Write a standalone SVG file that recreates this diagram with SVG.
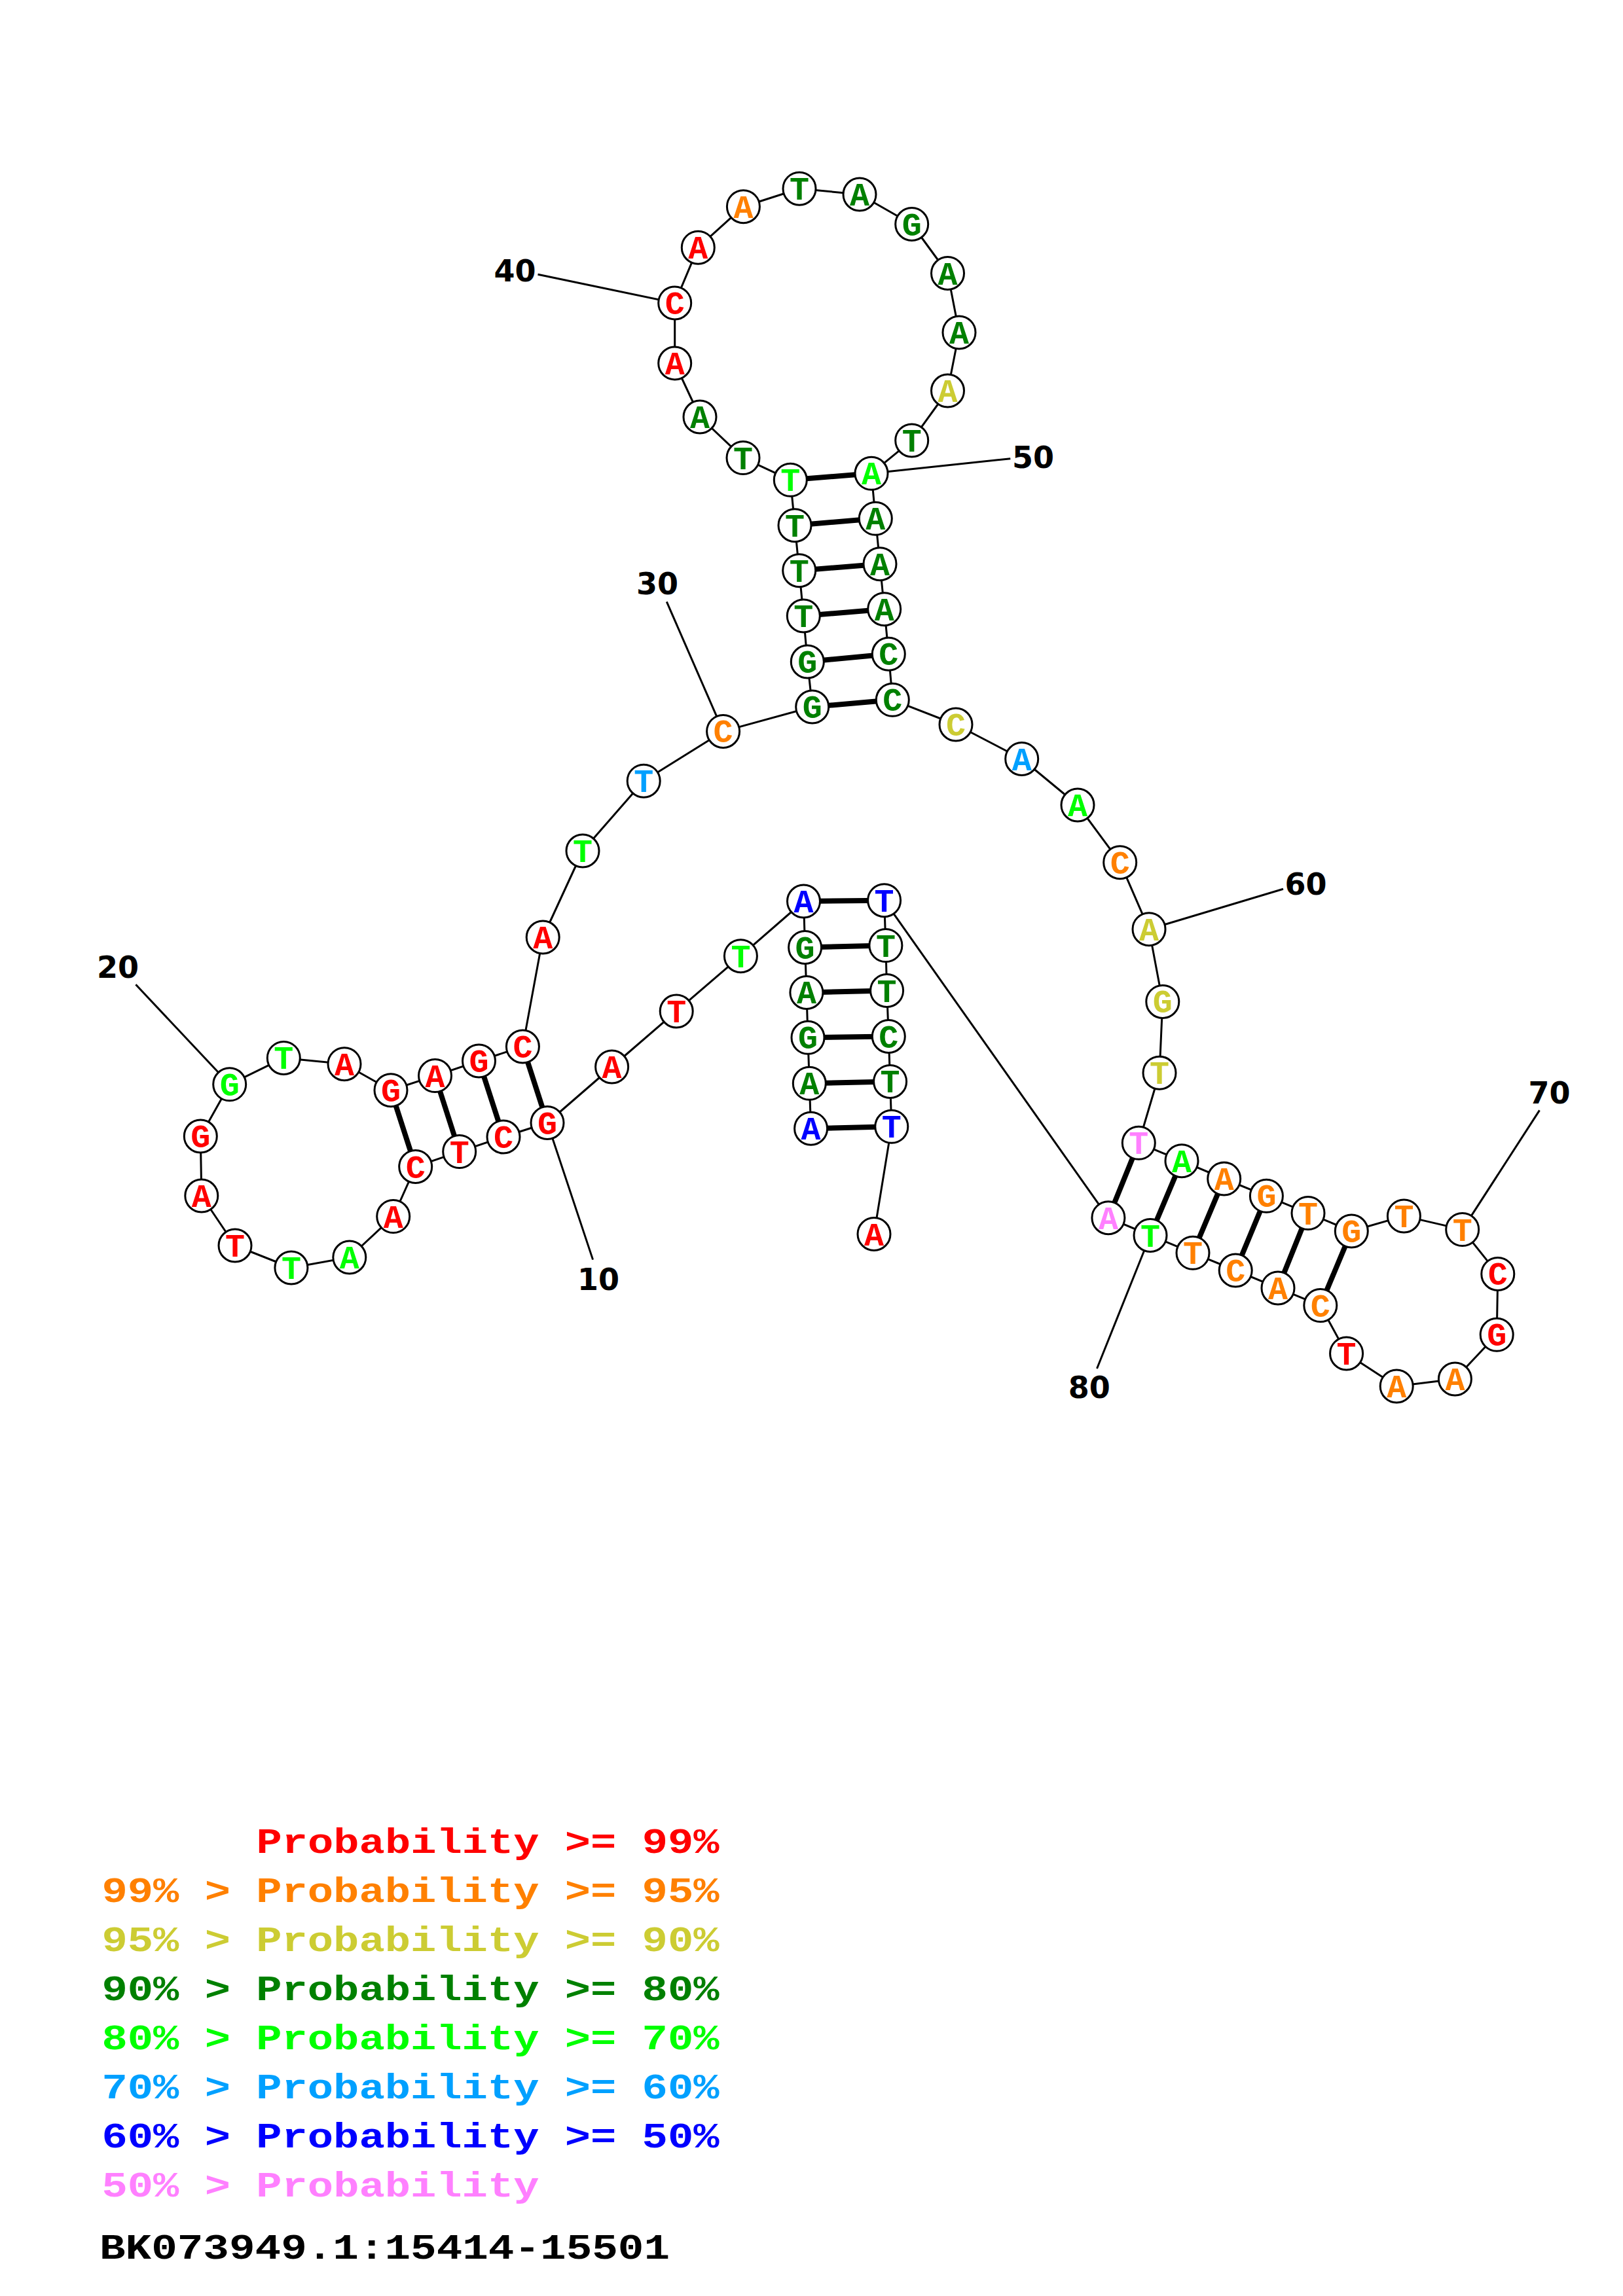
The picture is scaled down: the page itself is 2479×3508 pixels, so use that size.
<svg xmlns="http://www.w3.org/2000/svg" width="2479" height="3508" viewBox="0 0 2479 3508">
<style>
.bb{fill:none;stroke:#000;stroke-width:3;stroke-linejoin:round}
.pr{stroke:#000;stroke-width:8}
.ll{stroke:#000;stroke-width:3}
circle{fill:#fff;stroke:#000;stroke-width:3}
.nd text{font-family:"Liberation Mono","DejaVu Sans Mono",monospace;font-weight:bold;font-size:50px;text-anchor:middle}
.lab{font-family:"DejaVu Sans","Liberation Sans",sans-serif;font-weight:bold;font-size:46px;text-anchor:middle;fill:#000}
.leg{font-family:"Liberation Mono","DejaVu Sans Mono",monospace;font-weight:bold;font-size:54px}
.r{fill:#ff0000}.o{fill:#ff8000}.y{fill:#cccc33}.g{fill:#008000}.l{fill:#00ff00}.s{fill:#00a0ff}.b{fill:#0000ff}.p{fill:#ff80ff}.k{fill:#000}
</style>
<rect x="0" y="0" width="2479" height="3508" fill="#fff"/>
<g id="connectors">
<polyline class="bb" points="1238.6,1724.2 1236.3,1655.3 1234,1585.3 1231.9,1516.4 1229.6,1447.5 1227.5,1377 1131.4,1460.7 1033.2,1545 934.6,1630 836,1715.5 769,1737 701.7,1759.6 634.7,1782.5 600.7,1858.6 533.8,1921 444.9,1937 359,1903 307.8,1827 306.3,1736 350.7,1656.8 433.3,1616.4 526,1625.7 597,1665.7 664.5,1643.6 731.5,1621 798.4,1599 829.2,1432 890,1300 983.2,1193.2 1104.6,1117.4 1240.7,1080 1233.3,1011 1227.3,941 1220.7,871.7 1214,802.7 1207.3,733.3 1135,699.6 1069,637 1030.7,555 1030.7,462.9 1066.3,378.2 1135.4,315.7 1221,288.2 1313,297 1392.7,342.5 1447.5,417.5 1465,507.9 1447.5,597 1392.7,672.9 1331,723.3 1337.3,792.3 1344,861.7 1350.7,930.7 1357.3,999.3 1363.3,1069.3 1460,1107 1560.7,1159.5 1646,1230 1710.7,1317.7 1755,1419.7 1775.8,1530.4 1771,1639.2 1739.3,1746.3 1805,1773.7 1869.7,1801 1934.4,1827.3 1998,1853.6 2064.3,1881 2144.4,1857.9 2233.7,1878.6 2287.8,1946.4 2286.2,2039.3 2222.4,2107 2133.2,2117.9 2056.6,2067.9 2016.8,1994.6 1952,1967.9 1887.2,1941 1822,1914.3 1757,1887.5 1692.9,1860.7 1350.6,1375.7 1352.9,1444.6 1354.6,1513.5 1357.3,1583.5 1359.6,1652.4 1361.8,1721.3 1335,1885.5"/>
<line class="pr" x1="1238.6" y1="1724.2" x2="1361.8" y2="1721.3"/>
<line class="pr" x1="1236.3" y1="1655.3" x2="1359.6" y2="1652.4"/>
<line class="pr" x1="1234" y1="1585.3" x2="1357.3" y2="1583.5"/>
<line class="pr" x1="1231.9" y1="1516.4" x2="1354.6" y2="1513.5"/>
<line class="pr" x1="1229.6" y1="1447.5" x2="1352.9" y2="1444.6"/>
<line class="pr" x1="1227.5" y1="1377" x2="1350.6" y2="1375.7"/>
<line class="pr" x1="836" y1="1715.5" x2="798.4" y2="1599"/>
<line class="pr" x1="769" y1="1737" x2="731.5" y2="1621"/>
<line class="pr" x1="701.7" y1="1759.6" x2="664.5" y2="1643.6"/>
<line class="pr" x1="634.7" y1="1782.5" x2="597" y2="1665.7"/>
<line class="pr" x1="1240.7" y1="1080" x2="1363.3" y2="1069.3"/>
<line class="pr" x1="1233.3" y1="1011" x2="1357.3" y2="999.3"/>
<line class="pr" x1="1227.3" y1="941" x2="1350.7" y2="930.7"/>
<line class="pr" x1="1220.7" y1="871.7" x2="1344" y2="861.7"/>
<line class="pr" x1="1214" y1="802.7" x2="1337.3" y2="792.3"/>
<line class="pr" x1="1207.3" y1="733.3" x2="1331" y2="723.3"/>
<line class="pr" x1="1739.3" y1="1746.3" x2="1692.9" y2="1860.7"/>
<line class="pr" x1="1805" y1="1773.7" x2="1757" y2="1887.5"/>
<line class="pr" x1="1869.7" y1="1801" x2="1822" y2="1914.3"/>
<line class="pr" x1="1934.4" y1="1827.3" x2="1887.2" y2="1941"/>
<line class="pr" x1="1998" y1="1853.6" x2="1952" y2="1967.9"/>
<line class="pr" x1="2064.3" y1="1881" x2="2016.8" y2="1994.6"/>
<line class="ll" x1="836" y1="1715.5" x2="905.6" y2="1924.6"/>
<line class="ll" x1="350.7" y1="1656.8" x2="207.4" y2="1504.3"/>
<line class="ll" x1="1104.6" y1="1117.4" x2="1018.3" y2="919.3"/>
<line class="ll" x1="1030.7" y1="462.9" x2="821.5" y2="419.3"/>
<line class="ll" x1="1331" y1="723.3" x2="1543.3" y2="700.7"/>
<line class="ll" x1="1755" y1="1419.7" x2="1960" y2="1358.3"/>
<line class="ll" x1="2233.7" y1="1878.6" x2="2351.5" y2="1696.4"/>
<line class="ll" x1="1757" y1="1887.5" x2="1675.5" y2="2091"/>
</g>
<g id="labels">
<text class="lab" x="914" y="1971">10</text>
<text class="lab" x="180" y="1494">20</text>
<text class="lab" x="1004" y="908">30</text>
<text class="lab" x="786.5" y="430">40</text>
<text class="lab" x="1578" y="715">50</text>
<text class="lab" x="1994.5" y="1367">60</text>
<text class="lab" x="2366.6" y="1686">70</text>
<text class="lab" x="1663.8" y="2136">80</text>
</g>
<g id="n1" class="nd"><circle cx="1238.6" cy="1724.2" r="25"/><text class="b" x="1238.6" y="1741.2">A</text></g>
<g id="n2" class="nd"><circle cx="1236.3" cy="1655.3" r="25"/><text class="g" x="1236.3" y="1672.3">A</text></g>
<g id="n3" class="nd"><circle cx="1234" cy="1585.3" r="25"/><text class="g" x="1234" y="1602.3">G</text></g>
<g id="n4" class="nd"><circle cx="1231.9" cy="1516.4" r="25"/><text class="g" x="1231.9" y="1533.4">A</text></g>
<g id="n5" class="nd"><circle cx="1229.6" cy="1447.5" r="25"/><text class="g" x="1229.6" y="1464.5">G</text></g>
<g id="n6" class="nd"><circle cx="1227.5" cy="1377" r="25"/><text class="b" x="1227.5" y="1394">A</text></g>
<g id="n7" class="nd"><circle cx="1131.4" cy="1460.7" r="25"/><text class="l" x="1131.4" y="1477.7">T</text></g>
<g id="n8" class="nd"><circle cx="1033.2" cy="1545" r="25"/><text class="r" x="1033.2" y="1562">T</text></g>
<g id="n9" class="nd"><circle cx="934.6" cy="1630" r="25"/><text class="r" x="934.6" y="1647">A</text></g>
<g id="n10" class="nd"><circle cx="836" cy="1715.5" r="25"/><text class="r" x="836" y="1732.5">G</text></g>
<g id="n11" class="nd"><circle cx="769" cy="1737" r="25"/><text class="r" x="769" y="1754">C</text></g>
<g id="n12" class="nd"><circle cx="701.7" cy="1759.6" r="25"/><text class="r" x="701.7" y="1776.6">T</text></g>
<g id="n13" class="nd"><circle cx="634.7" cy="1782.5" r="25"/><text class="r" x="634.7" y="1799.5">C</text></g>
<g id="n14" class="nd"><circle cx="600.7" cy="1858.6" r="25"/><text class="r" x="600.7" y="1875.6">A</text></g>
<g id="n15" class="nd"><circle cx="533.8" cy="1921" r="25"/><text class="l" x="533.8" y="1938">A</text></g>
<g id="n16" class="nd"><circle cx="444.9" cy="1937" r="25"/><text class="l" x="444.9" y="1954">T</text></g>
<g id="n17" class="nd"><circle cx="359" cy="1903" r="25"/><text class="r" x="359" y="1920">T</text></g>
<g id="n18" class="nd"><circle cx="307.8" cy="1827" r="25"/><text class="r" x="307.8" y="1844">A</text></g>
<g id="n19" class="nd"><circle cx="306.3" cy="1736" r="25"/><text class="r" x="306.3" y="1753">G</text></g>
<g id="n20" class="nd"><circle cx="350.7" cy="1656.8" r="25"/><text class="l" x="350.7" y="1673.8">G</text></g>
<g id="n21" class="nd"><circle cx="433.3" cy="1616.4" r="25"/><text class="l" x="433.3" y="1633.4">T</text></g>
<g id="n22" class="nd"><circle cx="526" cy="1625.7" r="25"/><text class="r" x="526" y="1642.7">A</text></g>
<g id="n23" class="nd"><circle cx="597" cy="1665.7" r="25"/><text class="r" x="597" y="1682.7">G</text></g>
<g id="n24" class="nd"><circle cx="664.5" cy="1643.6" r="25"/><text class="r" x="664.5" y="1660.6">A</text></g>
<g id="n25" class="nd"><circle cx="731.5" cy="1621" r="25"/><text class="r" x="731.5" y="1638">G</text></g>
<g id="n26" class="nd"><circle cx="798.4" cy="1599" r="25"/><text class="r" x="798.4" y="1616">C</text></g>
<g id="n27" class="nd"><circle cx="829.2" cy="1432" r="25"/><text class="r" x="829.2" y="1449">A</text></g>
<g id="n28" class="nd"><circle cx="890" cy="1300" r="25"/><text class="l" x="890" y="1317">T</text></g>
<g id="n29" class="nd"><circle cx="983.2" cy="1193.2" r="25"/><text class="s" x="983.2" y="1210.2">T</text></g>
<g id="n30" class="nd"><circle cx="1104.6" cy="1117.4" r="25"/><text class="o" x="1104.6" y="1134.4">C</text></g>
<g id="n31" class="nd"><circle cx="1240.7" cy="1080" r="25"/><text class="g" x="1240.7" y="1097">G</text></g>
<g id="n32" class="nd"><circle cx="1233.3" cy="1011" r="25"/><text class="g" x="1233.3" y="1028">G</text></g>
<g id="n33" class="nd"><circle cx="1227.3" cy="941" r="25"/><text class="g" x="1227.3" y="958">T</text></g>
<g id="n34" class="nd"><circle cx="1220.7" cy="871.7" r="25"/><text class="g" x="1220.7" y="888.7">T</text></g>
<g id="n35" class="nd"><circle cx="1214" cy="802.7" r="25"/><text class="g" x="1214" y="819.7">T</text></g>
<g id="n36" class="nd"><circle cx="1207.3" cy="733.3" r="25"/><text class="l" x="1207.3" y="750.3">T</text></g>
<g id="n37" class="nd"><circle cx="1135" cy="699.6" r="25"/><text class="g" x="1135" y="716.6">T</text></g>
<g id="n38" class="nd"><circle cx="1069" cy="637" r="25"/><text class="g" x="1069" y="654">A</text></g>
<g id="n39" class="nd"><circle cx="1030.7" cy="555" r="25"/><text class="r" x="1030.7" y="572">A</text></g>
<g id="n40" class="nd"><circle cx="1030.7" cy="462.9" r="25"/><text class="r" x="1030.7" y="479.9">C</text></g>
<g id="n41" class="nd"><circle cx="1066.3" cy="378.2" r="25"/><text class="r" x="1066.3" y="395.2">A</text></g>
<g id="n42" class="nd"><circle cx="1135.4" cy="315.7" r="25"/><text class="o" x="1135.4" y="332.7">A</text></g>
<g id="n43" class="nd"><circle cx="1221" cy="288.2" r="25"/><text class="g" x="1221" y="305.2">T</text></g>
<g id="n44" class="nd"><circle cx="1313" cy="297" r="25"/><text class="g" x="1313" y="314">A</text></g>
<g id="n45" class="nd"><circle cx="1392.7" cy="342.5" r="25"/><text class="g" x="1392.7" y="359.5">G</text></g>
<g id="n46" class="nd"><circle cx="1447.5" cy="417.5" r="25"/><text class="g" x="1447.5" y="434.5">A</text></g>
<g id="n47" class="nd"><circle cx="1465" cy="507.9" r="25"/><text class="g" x="1465" y="524.9">A</text></g>
<g id="n48" class="nd"><circle cx="1447.5" cy="597" r="25"/><text class="y" x="1447.5" y="614">A</text></g>
<g id="n49" class="nd"><circle cx="1392.7" cy="672.9" r="25"/><text class="g" x="1392.7" y="689.9">T</text></g>
<g id="n50" class="nd"><circle cx="1331" cy="723.3" r="25"/><text class="l" x="1331" y="740.3">A</text></g>
<g id="n51" class="nd"><circle cx="1337.3" cy="792.3" r="25"/><text class="g" x="1337.3" y="809.3">A</text></g>
<g id="n52" class="nd"><circle cx="1344" cy="861.7" r="25"/><text class="g" x="1344" y="878.7">A</text></g>
<g id="n53" class="nd"><circle cx="1350.7" cy="930.7" r="25"/><text class="g" x="1350.7" y="947.7">A</text></g>
<g id="n54" class="nd"><circle cx="1357.3" cy="999.3" r="25"/><text class="g" x="1357.3" y="1016.3">C</text></g>
<g id="n55" class="nd"><circle cx="1363.3" cy="1069.3" r="25"/><text class="g" x="1363.3" y="1086.3">C</text></g>
<g id="n56" class="nd"><circle cx="1460" cy="1107" r="25"/><text class="y" x="1460" y="1124">C</text></g>
<g id="n57" class="nd"><circle cx="1560.7" cy="1159.5" r="25"/><text class="s" x="1560.7" y="1176.5">A</text></g>
<g id="n58" class="nd"><circle cx="1646" cy="1230" r="25"/><text class="l" x="1646" y="1247">A</text></g>
<g id="n59" class="nd"><circle cx="1710.7" cy="1317.7" r="25"/><text class="o" x="1710.7" y="1334.7">C</text></g>
<g id="n60" class="nd"><circle cx="1755" cy="1419.7" r="25"/><text class="y" x="1755" y="1436.7">A</text></g>
<g id="n61" class="nd"><circle cx="1775.8" cy="1530.4" r="25"/><text class="y" x="1775.8" y="1547.4">G</text></g>
<g id="n62" class="nd"><circle cx="1771" cy="1639.2" r="25"/><text class="y" x="1771" y="1656.2">T</text></g>
<g id="n63" class="nd"><circle cx="1739.3" cy="1746.3" r="25"/><text class="p" x="1739.3" y="1763.3">T</text></g>
<g id="n64" class="nd"><circle cx="1805" cy="1773.7" r="25"/><text class="l" x="1805" y="1790.7">A</text></g>
<g id="n65" class="nd"><circle cx="1869.7" cy="1801" r="25"/><text class="o" x="1869.7" y="1818">A</text></g>
<g id="n66" class="nd"><circle cx="1934.4" cy="1827.3" r="25"/><text class="o" x="1934.4" y="1844.3">G</text></g>
<g id="n67" class="nd"><circle cx="1998" cy="1853.6" r="25"/><text class="o" x="1998" y="1870.6">T</text></g>
<g id="n68" class="nd"><circle cx="2064.3" cy="1881" r="25"/><text class="o" x="2064.3" y="1898">G</text></g>
<g id="n69" class="nd"><circle cx="2144.4" cy="1857.9" r="25"/><text class="o" x="2144.4" y="1874.9">T</text></g>
<g id="n70" class="nd"><circle cx="2233.7" cy="1878.6" r="25"/><text class="o" x="2233.7" y="1895.6">T</text></g>
<g id="n71" class="nd"><circle cx="2287.8" cy="1946.4" r="25"/><text class="r" x="2287.8" y="1963.4">C</text></g>
<g id="n72" class="nd"><circle cx="2286.2" cy="2039.3" r="25"/><text class="r" x="2286.2" y="2056.3">G</text></g>
<g id="n73" class="nd"><circle cx="2222.4" cy="2107" r="25"/><text class="o" x="2222.4" y="2124">A</text></g>
<g id="n74" class="nd"><circle cx="2133.2" cy="2117.9" r="25"/><text class="o" x="2133.2" y="2134.9">A</text></g>
<g id="n75" class="nd"><circle cx="2056.6" cy="2067.9" r="25"/><text class="r" x="2056.6" y="2084.9">T</text></g>
<g id="n76" class="nd"><circle cx="2016.8" cy="1994.6" r="25"/><text class="o" x="2016.8" y="2011.6">C</text></g>
<g id="n77" class="nd"><circle cx="1952" cy="1967.9" r="25"/><text class="o" x="1952" y="1984.9">A</text></g>
<g id="n78" class="nd"><circle cx="1887.2" cy="1941" r="25"/><text class="o" x="1887.2" y="1958">C</text></g>
<g id="n79" class="nd"><circle cx="1822" cy="1914.3" r="25"/><text class="o" x="1822" y="1931.3">T</text></g>
<g id="n80" class="nd"><circle cx="1757" cy="1887.5" r="25"/><text class="l" x="1757" y="1904.5">T</text></g>
<g id="n81" class="nd"><circle cx="1692.9" cy="1860.7" r="25"/><text class="p" x="1692.9" y="1877.7">A</text></g>
<g id="n82" class="nd"><circle cx="1350.6" cy="1375.7" r="25"/><text class="b" x="1350.6" y="1392.7">T</text></g>
<g id="n83" class="nd"><circle cx="1352.9" cy="1444.6" r="25"/><text class="g" x="1352.9" y="1461.6">T</text></g>
<g id="n84" class="nd"><circle cx="1354.6" cy="1513.5" r="25"/><text class="g" x="1354.6" y="1530.5">T</text></g>
<g id="n85" class="nd"><circle cx="1357.3" cy="1583.5" r="25"/><text class="g" x="1357.3" y="1600.5">C</text></g>
<g id="n86" class="nd"><circle cx="1359.6" cy="1652.4" r="25"/><text class="g" x="1359.6" y="1669.4">T</text></g>
<g id="n87" class="nd"><circle cx="1361.8" cy="1721.3" r="25"/><text class="b" x="1361.8" y="1738.3">T</text></g>
<g id="n88" class="nd"><circle cx="1335" cy="1885.5" r="25"/><text class="r" x="1335" y="1902.5">A</text></g>
<g id="legend" class="leg">
<text class="r" x="391.5" y="2831" textLength="707" lengthAdjust="spacingAndGlyphs">Probability &gt;= 99%</text>
<text class="o" x="155.5" y="2906" textLength="943" lengthAdjust="spacingAndGlyphs">99% &gt; Probability &gt;= 95%</text>
<text class="y" x="155.5" y="2981" textLength="943" lengthAdjust="spacingAndGlyphs">95% &gt; Probability &gt;= 90%</text>
<text class="g" x="155.5" y="3056" textLength="943" lengthAdjust="spacingAndGlyphs">90% &gt; Probability &gt;= 80%</text>
<text class="l" x="155.5" y="3131" textLength="943" lengthAdjust="spacingAndGlyphs">80% &gt; Probability &gt;= 70%</text>
<text class="s" x="155.5" y="3206" textLength="943" lengthAdjust="spacingAndGlyphs">70% &gt; Probability &gt;= 60%</text>
<text class="b" x="155.5" y="3281" textLength="943" lengthAdjust="spacingAndGlyphs">60% &gt; Probability &gt;= 50%</text>
<text class="p" x="155.5" y="3356" textLength="668" lengthAdjust="spacingAndGlyphs">50% &gt; Probability</text>
<text class="k" x="152" y="3451" textLength="871" lengthAdjust="spacingAndGlyphs">BK073949.1:15414-15501</text>
</g>
</svg>
